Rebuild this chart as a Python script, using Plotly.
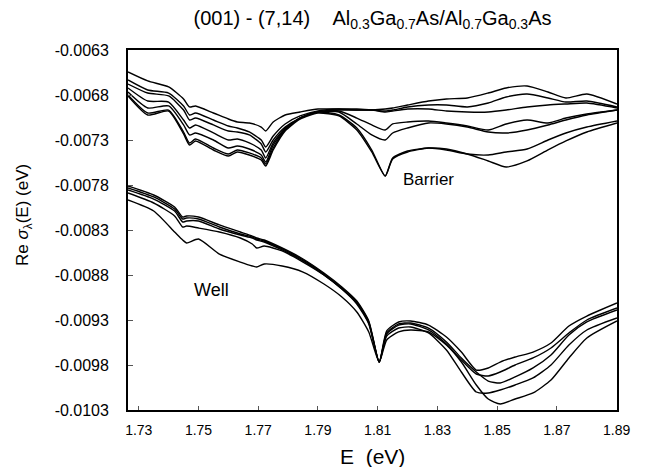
import plotly.graph_objects as go

# Energy grids (eV)
E_barrier = [1.7264, 1.733, 1.740, 1.745, 1.747, 1.749, 1.755, 1.760, 1.763, 1.767, 1.771, 1.7725,
             1.775, 1.779, 1.784, 1.790, 1.797, 1.803, 1.808, 1.8125, 1.815, 1.820, 1.827, 1.833,
             1.840, 1.847, 1.853, 1.860, 1.867, 1.873, 1.880, 1.8901]

B1 = [-0.006544, -0.006644, -0.006711, -0.006844, -0.006933, -0.006922, -0.007000, -0.007067,
      -0.007100, -0.007111, -0.007156, -0.007200, -0.007100, -0.007022, -0.006989, -0.006956,
      -0.006956, -0.006967, -0.006967, -0.006956, -0.006944, -0.006911, -0.006867, -0.006844,
      -0.006833, -0.006778, -0.006722, -0.006700, -0.006767, -0.006833, -0.006789, -0.006900]
B2 = [-0.006633, -0.006744, -0.006778, -0.006922, -0.007022, -0.007000, -0.007078, -0.007144,
      -0.007167, -0.007211, -0.007300, -0.007378, -0.007256, -0.007122, -0.007033, -0.006978,
      -0.006956, -0.006956, -0.006967, -0.006978, -0.006967, -0.006933, -0.006911, -0.006911,
      -0.006933, -0.006889, -0.006822, -0.006789, -0.006833, -0.006878, -0.006867, -0.006933]
B3 = [-0.006678, -0.006778, -0.006811, -0.006967, -0.007078, -0.007056, -0.007133, -0.007200,
      -0.007211, -0.007244, -0.007344, -0.007433, -0.007300, -0.007156, -0.007056, -0.006989,
      -0.006967, -0.006967, -0.006967, -0.006989, -0.006978, -0.006956, -0.006956, -0.006978,
      -0.006989, -0.006989, -0.006967, -0.006933, -0.006911, -0.006900, -0.006889, -0.006944]
B4 = [-0.006722, -0.006867, -0.006878, -0.007078, -0.007167, -0.007133, -0.007222, -0.007300,
      -0.007289, -0.007333, -0.007411, -0.007500, -0.007333, -0.007167, -0.007056, -0.006989,
      -0.006978, -0.007056, -0.007133, -0.007189, -0.007122, -0.007100, -0.007089, -0.007111,
      -0.007144, -0.007189, -0.007122, -0.007078, -0.007111, -0.007056, -0.007011, -0.006967]
B5 = [-0.006767, -0.006944, -0.006922, -0.007133, -0.007244, -0.007222, -0.007300, -0.007389,
      -0.007367, -0.007400, -0.007467, -0.007544, -0.007356, -0.007178, -0.007056, -0.006989,
      -0.006989, -0.007122, -0.007244, -0.007300, -0.007222, -0.007167, -0.007111, -0.007122,
      -0.007156, -0.007211, -0.007222, -0.007189, -0.007133, -0.007078, -0.007022, -0.006967]
B6 = [-0.006800, -0.007000, -0.006967, -0.007211, -0.007333, -0.007289, -0.007389, -0.007456,
      -0.007411, -0.007444, -0.007500, -0.007567, -0.007389, -0.007189, -0.007056, -0.006989,
      -0.007022, -0.007167, -0.007411, -0.007700, -0.007500, -0.007422, -0.007389, -0.007400,
      -0.007456, -0.007533, -0.007600, -0.007533, -0.007411, -0.007311, -0.007211, -0.007111]
B7 = [-0.006811, -0.007022, -0.006978, -0.007233, -0.007356, -0.007311, -0.007411, -0.007478,
      -0.007433, -0.007467, -0.007522, -0.007589, -0.007411, -0.007200, -0.007067, -0.007000,
      -0.007033, -0.007189, -0.007433, -0.007700, -0.007511, -0.007433, -0.007389, -0.007411,
      -0.007456, -0.007467, -0.007433, -0.007400, -0.007300, -0.007222, -0.007156, -0.007089]

E_well = [1.7264, 1.735, 1.742, 1.7447, 1.746, 1.750, 1.757, 1.764, 1.768, 1.7695, 1.772, 1.778,
          1.785, 1.792, 1.798, 1.803, 1.807, 1.8105, 1.813, 1.817, 1.821, 1.827, 1.833, 1.838,
          1.843, 1.847, 1.851, 1.856, 1.862, 1.868, 1.874, 1.880, 1.8901]

W1 = [-0.007811, -0.007911, -0.008044, -0.008156, -0.008144, -0.008156, -0.008244, -0.008322,
      -0.008367, -0.008389, -0.008411, -0.008500, -0.008622, -0.008778, -0.008933, -0.009089,
      -0.009311, -0.009767, -0.009422, -0.009322, -0.009311, -0.009356, -0.009489, -0.009656,
      -0.009856, -0.009833, -0.009767, -0.009711, -0.009656, -0.009556, -0.009367, -0.009256,
      -0.009111]
W2 = [-0.007833, -0.007933, -0.008067, -0.008178, -0.008167, -0.008178, -0.008267, -0.008344,
      -0.008378, -0.008400, -0.008422, -0.008511, -0.008633, -0.008789, -0.008944, -0.009100,
      -0.009322, -0.009767, -0.009444, -0.009344, -0.009333, -0.009389, -0.009544, -0.009722,
      -0.009878, -0.009978, -0.010000, -0.009933, -0.009833, -0.009689, -0.009467, -0.009322,
      -0.009189]
W3 = [-0.007856, -0.007956, -0.008089, -0.008211, -0.008200, -0.008200, -0.008289, -0.008356,
      -0.008389, -0.008411, -0.008433, -0.008522, -0.008644, -0.008800, -0.008956, -0.009111,
      -0.009333, -0.009767, -0.009456, -0.009356, -0.009344, -0.009411, -0.009567, -0.009744,
      -0.009900, -0.009922, -0.009878, -0.009800, -0.009722, -0.009611, -0.009444, -0.009300,
      -0.009167]
W4 = [-0.007889, -0.008000, -0.008144, -0.008267, -0.008256, -0.008278, -0.008322, -0.008389,
      -0.008456, -0.008500, -0.008478, -0.008533, -0.008656, -0.008800, -0.008956, -0.009122,
      -0.009344, -0.009767, -0.009478, -0.009389, -0.009378, -0.009444, -0.009633, -0.009878,
      -0.010100, -0.010111, -0.010078, -0.010022, -0.009944, -0.009800, -0.009578, -0.009411,
      -0.009278]
W5 = [-0.007967, -0.008089, -0.008322, -0.008411, -0.008444, -0.008400, -0.008567, -0.008656,
      -0.008700, -0.008711, -0.008678, -0.008700, -0.008767, -0.008900, -0.009044, -0.009211,
      -0.009433, -0.009767, -0.009522, -0.009433, -0.009411, -0.009433, -0.009578, -0.009767,
      -0.010022, -0.010178, -0.010233, -0.010178, -0.010111, -0.009967, -0.009722, -0.009500,
      -0.009311]

x_ticks = [1.73, 1.75, 1.77, 1.79, 1.81, 1.83, 1.85, 1.87, 1.89]
x_tick_text = ["1.73", "1.75", "1.77", "1.79", "1.81", "1.83", "1.85", "1.87", "1.89"]
y_ticks = [-0.0063, -0.0068, -0.0073, -0.0078, -0.0083, -0.0088, -0.0093, -0.0098, -0.0103]
y_tick_text = ["-0.0063", "-0.0068", "-0.0073", "-0.0078", "-0.0083", "-0.0088", "-0.0093",
               "-0.0098", "-0.0103"]

FONT = "Liberation Sans, Arial, Helvetica, sans-serif"

fig = go.Figure()
for ys in [B1, B2, B3, B4, B5, B6, B7]:
    fig.add_trace(go.Scatter(x=E_barrier, y=ys, mode="lines",
                             line=dict(color="black", width=1.4, shape="spline", smoothing=0.6)))
for ys in [W1, W2, W3, W4, W5]:
    fig.add_trace(go.Scatter(x=E_well, y=ys, mode="lines",
                             line=dict(color="black", width=1.4, shape="spline", smoothing=0.6)))

fig.update_layout(
    width=648, height=467,
    margin=dict(l=128, r=31, t=50, b=57),
    plot_bgcolor="white", paper_bgcolor="white",
    showlegend=False,
    font=dict(family=FONT, color="black", size=14),
    title=dict(
        text="(001) - (7,14)&nbsp;&nbsp;&nbsp;&nbsp;Al<sub>0.3</sub>Ga<sub>0.7</sub>As/Al<sub>0.7</sub>Ga<sub>0.3</sub>As",
        x=0.5, xref="paper", xanchor="center",
        y=1 - 18 / 467, yref="container", yanchor="middle",
        font=dict(family=FONT, size=20, color="black"),
    ),
)

fig.update_xaxes(
    range=[1.7264, 1.8901], tickmode="array", tickvals=x_ticks, ticktext=x_tick_text,
    showgrid=False, zeroline=False, showline=True, linecolor="black", linewidth=1.8, mirror=True,
    ticks="inside", ticklen=4, tickwidth=1, tickcolor="#555",
    tickfont=dict(family=FONT, size=14, color="black"), ticklabelstandoff=6,
)
fig.update_yaxes(
    range=[-0.0103, -0.0063], tickmode="array", tickvals=y_ticks, ticktext=y_tick_text,
    showgrid=False, zeroline=False, showline=True, linecolor="black", linewidth=1.8, mirror=True,
    ticks="inside", ticklen=5, tickwidth=1, tickcolor="#555",
    tickfont=dict(family=FONT, size=16, color="black"), ticklabelstandoff=14,
)

fig.add_annotation(x=0, xref="paper", y=0.5, yref="paper", xshift=-104, yshift=15,
                   text="Re <i>σ</i><sub>λ</sub>(E) (eV)", textangle=-90, showarrow=False,
                   xanchor="center", yanchor="middle", font=dict(family=FONT, size=17, color="black"))
fig.add_annotation(x=0.5, xref="paper", y=0, yref="paper", yshift=-46,
                   text="E&nbsp; (eV)", showarrow=False,
                   xanchor="center", yanchor="middle", font=dict(family=FONT, size=21, color="black"))
fig.add_annotation(x=1.827, y=-0.007744, text="Barrier", showarrow=False,
                   xanchor="center", yanchor="middle", font=dict(family=FONT, size=17, color="black"))
fig.add_annotation(x=1.7543, y=-0.008967, text="Well", showarrow=False,
                   xanchor="center", yanchor="middle", font=dict(family=FONT, size=18, color="black"))

fig.write_html("out.html")
